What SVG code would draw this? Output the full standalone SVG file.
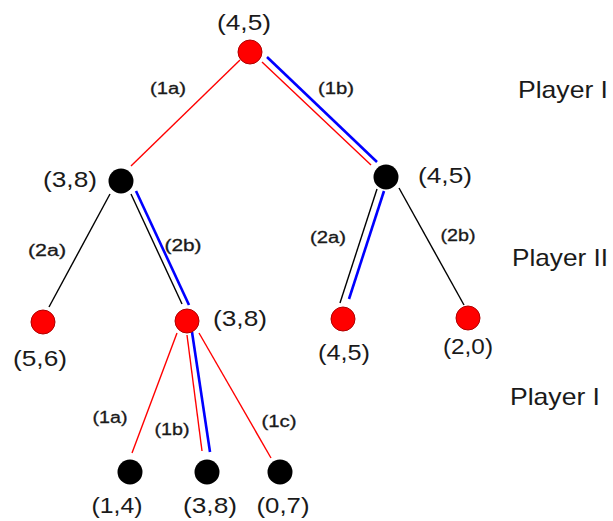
<svg xmlns="http://www.w3.org/2000/svg" width="613" height="521" viewBox="0 0 613 521">
<style>
text{font-family:"Liberation Sans",Arial,sans-serif;fill:#1a1a1a}
.pay{font-size:22px;text-anchor:middle}
.lab{font-size:16px;text-anchor:middle;stroke:#1a1a1a;stroke-width:0.3}
.pl{font-size:24px;text-anchor:middle}
.red{fill:#ff0000;stroke:#b00000;stroke-width:1}
.blk{fill:#000000}
.er{stroke:#ff0000;stroke-width:1.4;fill:none}
.ek{stroke:#000000;stroke-width:1.4;fill:none}
.eb{stroke:#0000ff;stroke-width:2.6;fill:none}
</style>
<rect width="613" height="521" fill="#ffffff"/>
<g id="edges">
<line class="er" x1="240" y1="60" x2="131" y2="166"/>
<line class="er" x1="262" y1="62" x2="371" y2="165"/>
<line class="eb" x1="267" y1="57" x2="377" y2="162"/>
<line class="ek" x1="110" y1="194" x2="49" y2="307"/>
<line class="ek" x1="131" y1="194" x2="182" y2="304"/>
<line class="eb" x1="136" y1="191" x2="189" y2="305"/>
<line class="ek" x1="377" y1="189" x2="340" y2="303"/>
<line class="eb" x1="384" y1="191" x2="349" y2="299"/>
<line class="ek" x1="399" y1="188" x2="464" y2="305"/>
<line class="er" x1="177" y1="333" x2="132" y2="453"/>
<line class="er" x1="187" y1="335" x2="202" y2="451"/>
<line class="eb" x1="192" y1="332" x2="210" y2="452"/>
<line class="er" x1="199" y1="333" x2="271" y2="458"/>
<text class="lab" x="168" y="94" textLength="36" lengthAdjust="spacingAndGlyphs">(1a)</text>
<text class="lab" x="336" y="94" textLength="36" lengthAdjust="spacingAndGlyphs">(1b)</text>
<text class="lab" x="47" y="256" textLength="38" lengthAdjust="spacingAndGlyphs">(2a)</text>
<text class="lab" x="183" y="251" textLength="37" lengthAdjust="spacingAndGlyphs">(2b)</text>
<text class="lab" x="328" y="243" textLength="36" lengthAdjust="spacingAndGlyphs">(2a)</text>
<text class="lab" x="458" y="241" textLength="35" lengthAdjust="spacingAndGlyphs">(2b)</text>
<text class="lab" x="110" y="423" textLength="35" lengthAdjust="spacingAndGlyphs">(1a)</text>
<text class="lab" x="172" y="435" textLength="35" lengthAdjust="spacingAndGlyphs">(1b)</text>
<text class="lab" x="279" y="427" textLength="35" lengthAdjust="spacingAndGlyphs">(1c)</text>
</g>
<g id="root"><circle class="red" cx="250" cy="52" r="12"/><text class="pay" x="244" y="30" textLength="54" lengthAdjust="spacingAndGlyphs">(4,5)</text></g>
<g id="n2a"><circle class="blk" cx="121" cy="181" r="12.5"/><text class="pay" x="70" y="187" textLength="54" lengthAdjust="spacingAndGlyphs">(3,8)</text></g>
<g id="n2b"><circle class="blk" cx="386" cy="177" r="12.5"/><text class="pay" x="445" y="183" textLength="54" lengthAdjust="spacingAndGlyphs">(4,5)</text></g>
<g id="l56"><circle class="red" cx="43" cy="322" r="12"/><text class="pay" x="40" y="366" textLength="54" lengthAdjust="spacingAndGlyphs">(5,6)</text></g>
<g id="n3"><circle class="red" cx="187" cy="321" r="12"/><text class="pay" x="240" y="326" textLength="54" lengthAdjust="spacingAndGlyphs">(3,8)</text></g>
<g id="l45"><circle class="red" cx="343" cy="319" r="12"/><text class="pay" x="344" y="360" textLength="52" lengthAdjust="spacingAndGlyphs">(4,5)</text></g>
<g id="l20"><circle class="red" cx="468" cy="318" r="12"/><text class="pay" x="468" y="354" textLength="50" lengthAdjust="spacingAndGlyphs">(2,0)</text></g>
<g id="l14"><circle class="blk" cx="130" cy="472" r="12.5"/><text class="pay" x="117" y="513" textLength="51" lengthAdjust="spacingAndGlyphs">(1,4)</text></g>
<g id="l38"><circle class="blk" cx="207" cy="472" r="12.5"/><text class="pay" x="210" y="513" textLength="54" lengthAdjust="spacingAndGlyphs">(3,8)</text></g>
<g id="l07"><circle class="blk" cx="280" cy="472" r="12.5"/><text class="pay" x="283" y="513" textLength="53" lengthAdjust="spacingAndGlyphs">(0,7)</text></g>
<g id="players">
<text class="pl" x="563" y="98" textLength="90" lengthAdjust="spacingAndGlyphs">Player I</text>
<text class="pl" x="560" y="266" textLength="96" lengthAdjust="spacingAndGlyphs">Player II</text>
<text class="pl" x="555" y="405" textLength="90" lengthAdjust="spacingAndGlyphs">Player I</text>
</g>
</svg>
